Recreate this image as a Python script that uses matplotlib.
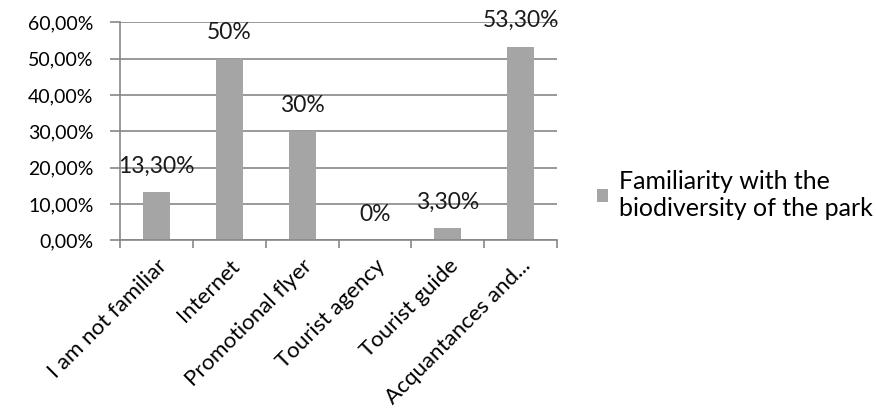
import matplotlib.pyplot as plt
from matplotlib.ticker import FuncFormatter

plt.rcParams['font.family'] = ['Lato', 'DejaVu Sans']

# data
categories = ["I am not familiar", "Internet", "Promotional flyer",
              "Tourist agency", "Tourist guide", "Acquantances and..."]
values = [13.3, 50, 30, 0, 3.3, 53.3]
value_labels = ["13,30%", "50%", "30%", "0%", "3,30%", "53,30%"]
series_name = "Familiarity with the\nbiodiversity of the park"

fs = 16.5

fig = plt.figure(figsize=(8.76, 4.13), dpi=100)
ax = fig.add_axes([0.137, 0.418, 0.499, 0.528])

x = list(range(len(categories)))
bars = ax.bar(x, values, width=0.37, color="#A5A5A5", label=series_name, zorder=2)

for xi, v, lab in zip(x, values, value_labels):
    ax.annotate(lab, (xi, v), xytext=(0, 26), textcoords="offset pixels",
                ha="center", va="center", fontsize=fs, color="#1a1a1a", zorder=3)

ax.set_xlim(-0.5, len(categories) - 0.5)
ax.set_ylim(0, 60)
ax.set_yticks(range(0, 61, 10))
ax.yaxis.set_major_formatter(FuncFormatter(lambda v, p: f"{v:.2f}%".replace(".", ",")))
ax.grid(axis="y", color="#878787", linewidth=1.2, zorder=0)

# category tick marks at boundaries, labels at centers
ax.set_xticks([i - 0.5 for i in range(len(categories) + 1)])
ax.set_xticklabels([])
ax.set_xticks(x, minor=True)
ax.set_xticklabels(categories, minor=True, rotation=45, ha="right",
                   rotation_mode="anchor", fontsize=16)
ax.tick_params(axis="x", which="minor", length=0, pad=11)
ax.tick_params(axis="x", which="major", length=6, width=1.2, color="#878787", direction="out")
ax.tick_params(axis="y", length=7, width=1.2, color="#878787", labelsize=14, pad=12)

for s in ["top", "right"]:
    ax.spines[s].set_visible(False)
for s in ["left", "bottom"]:
    ax.spines[s].set_color("#878787")
    ax.spines[s].set_linewidth(1.2)

fig.legend(handles=[bars], labels=[series_name], loc="center left",
           bbox_to_anchor=(0.682, 0.527), frameon=False, fontsize=18,
           handlelength=0.42, handleheight=0.42, handletextpad=0.45,
           labelspacing=0.1, borderaxespad=0, borderpad=0)

fig.savefig("out.png", dpi=100)
